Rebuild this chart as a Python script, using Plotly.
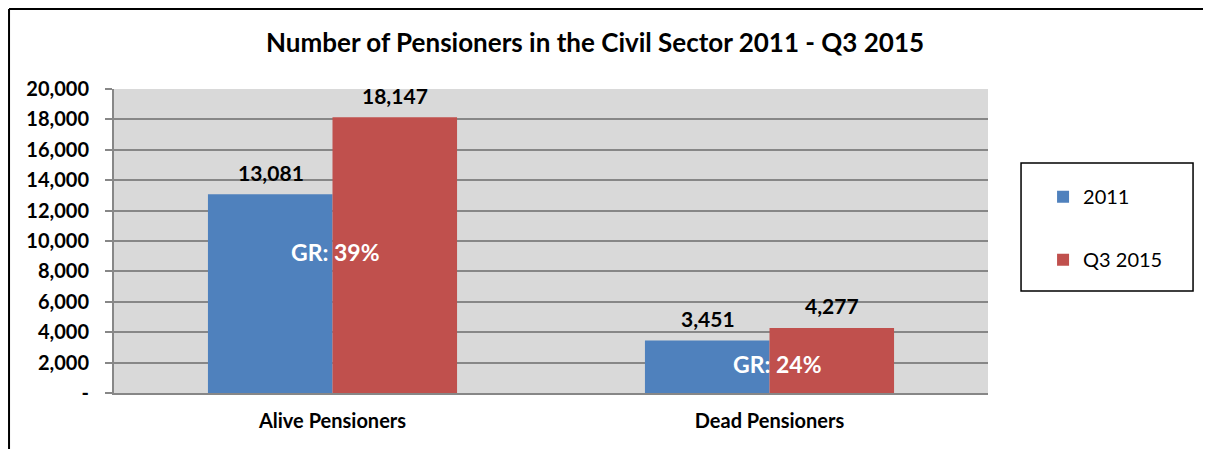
import plotly.graph_objects as go

categories = ["Alive Pensioners", "Dead Pensioners"]
series_names = ["2011", "Q3 2015"]
values_2011 = [13081, 3451]
values_q3_2015 = [18147, 4277]
y_ticks = [0, 2000, 4000, 6000, 8000, 10000, 12000, 14000, 16000, 18000, 20000]
y_tick_labels = ["-"] + [f"{v:,}" for v in y_ticks[1:]]
gr_labels = [f"GR: {round((b / a - 1) * 100)}%" for a, b in zip(values_2011, values_q3_2015)]
gr_label_y = [9300, 1900]

FONT = "Lato"
colors = ["#4F81BD", "#C0504D"]
grid = "#878787"

fig = go.Figure()
for i, (name, vals) in enumerate(zip(series_names, [values_2011, values_q3_2015])):
    fig.add_trace(go.Bar(
        x=categories, y=vals, name=name, marker_color=colors[i],
        marker_line_width=0, legendgroup=name,
    ))

annotations = []
for vals, shift in [(values_2011, -62), (values_q3_2015, 62)]:
    for cat, v in zip(categories, vals):
        annotations.append(dict(
            x=cat, y=v, text=f"<b>{v:,}</b>", showarrow=False,
            xshift=shift, yshift=22, yanchor="middle",
            font=dict(family=FONT, size=21, color="#000000"),
        ))
for cat, txt, y, shift in zip(categories, gr_labels, gr_label_y, [3, 8]):
    annotations.append(dict(
        x=cat, y=y, text=f"<b>{txt}</b>", showarrow=False, xshift=shift,
        font=dict(family=FONT, size=23, color="#FFFFFF"),
    ))

shapes = [
    # legend frame
    dict(type="rect", xref="paper", yref="paper", x0=1.0378, x1=1.2346, y0=0.3355, y1=0.7566,
         line=dict(color="#000000", width=1.5), fillcolor="rgba(0,0,0,0)"),
    # outer chart border (left + top)
    dict(type="line", xref="paper", yref="paper", x0=-0.1201, x1=-0.1201, y0=-0.3, y1=1.263,
         line=dict(color="#000000", width=2)),
    dict(type="line", xref="paper", yref="paper", x0=-0.1201, x1=1.3, y0=1.263, y1=1.263,
         line=dict(color="#000000", width=2)),
]

fig.update_layout(
    width=1203, height=441,
    margin=dict(l=106, r=223, t=81, b=56),
    paper_bgcolor="#FFFFFF", plot_bgcolor="#D9D9D9",
    barmode="group", bargap=0.43, bargroupgap=0,
    title=dict(text="<b>Number of Pensioners in the Civil Sector 2011 - Q3 2015</b>",
               x=0.488, xanchor="center", y=0.921, yanchor="middle",
               font=dict(family=FONT, size=26, color="#000000")),
    font=dict(family=FONT, color="#000000"),
    showlegend=True,
    legend=dict(x=1.063, xanchor="left", y=0.71, yanchor="top",
                traceorder="grouped", tracegroupgap=34,
                font=dict(family=FONT, size=20, color="#000000"),
                bgcolor="rgba(0,0,0,0)", borderwidth=0),
    annotations=annotations,
    shapes=shapes,
)
fig.update_xaxes(
    showline=True, linecolor=grid, linewidth=2, ticks="",
    tickfont=dict(family=FONT, size=20, color="#000000"),
    ticklabelstandoff=9,
    tickprefix="<b>", ticksuffix="</b>",
)
fig.update_yaxes(
    range=[0, 20000], tickvals=y_ticks, ticktext=[f"<b>{t}</b>" for t in y_tick_labels],
    showgrid=True, gridcolor=grid, gridwidth=2,
    showline=True, linecolor=grid, linewidth=2,
    ticks="outside", ticklen=7, tickcolor=grid, tickwidth=2,
    tickfont=dict(family=FONT, size=20, color="#000000"),
    ticklabelstandoff=12, zeroline=False,
)

fig.write_html("out.html")
